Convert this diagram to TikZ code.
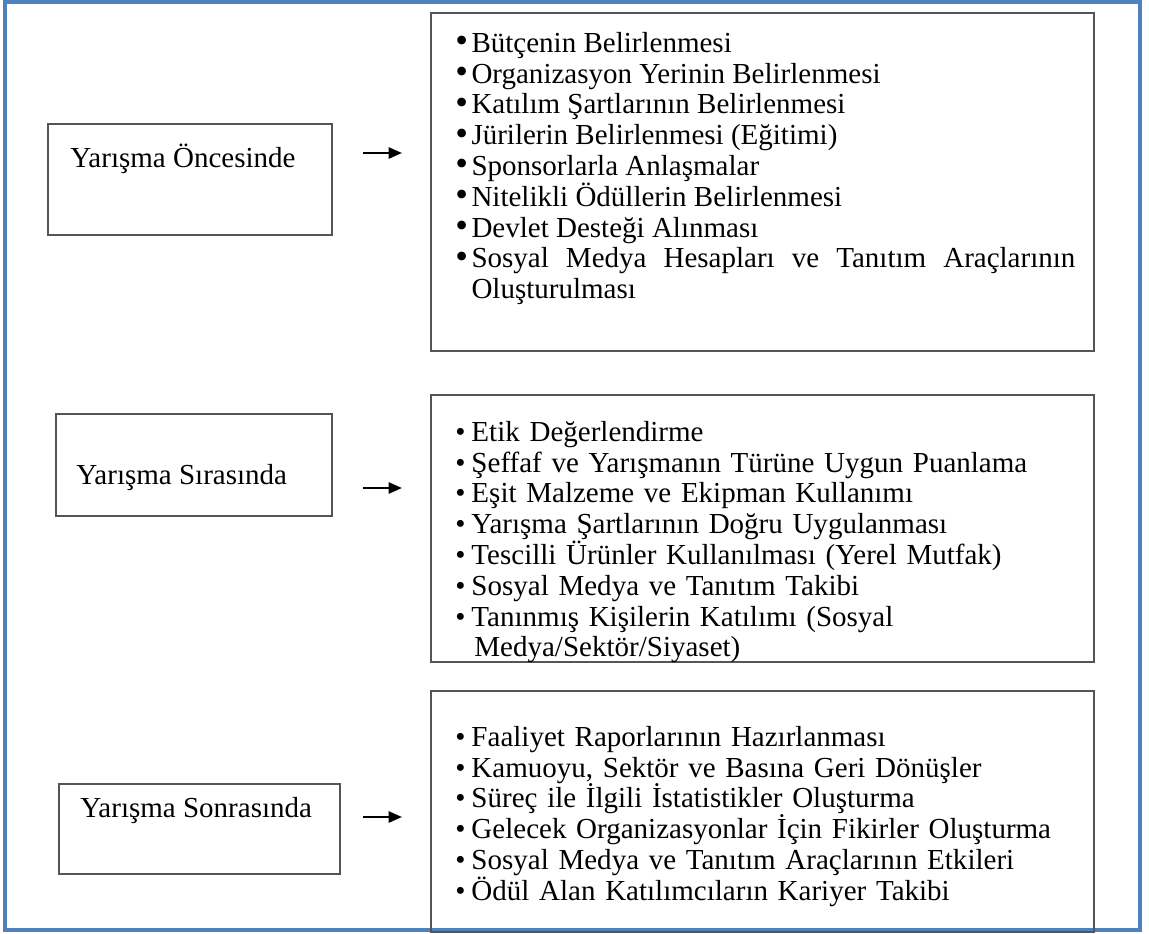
\documentclass[tikz,border=0pt]{standalone}
\usepackage{fontspec}
\setmainfont{Liberation Serif}
\usetikzlibrary{arrows.meta}
\definecolor{frameblue}{RGB}{79,129,189}
\definecolor{boxgray}{RGB}{85,85,85}
\newlength{\bulletgap}
\setlength{\bulletgap}{7.2pt}
% one bulleted item, text hangs after the bullet
\newcommand{\bigitem}[1]{\par\hangindent=\bulletgap\hangafter=1\noindent\makebox[\bulletgap][l]{\raisebox{-0.2pt}{\scalebox{1.25}{\textbullet}}}#1}
\newcommand{\smallitem}[1]{\par\hangindent=\bulletgap\hangafter=1\noindent\makebox[\bulletgap][l]{\textbullet}#1}

\begin{document}
\begin{tikzpicture}[x=0.01575cm, y=-0.01575cm,
  stage box/.style={shape=rectangle, draw=boxgray, line width=0.9pt, anchor=north west, inner sep=0},
  stage text/.style={anchor=base west, inner sep=0, font=\fontsize{13}{13.8}\selectfont},
  list text/.style={anchor=north west, inner sep=0, text width=620*0.448pt, font=\fontsize{13}{13.8}\selectfont},
  step arrow/.style={line width=1pt, -{Triangle[length=6pt, width=5pt]}},
  ]
		\useasboundingbox (0,0) rectangle (1149,934);
		\draw[frameblue, line width=1.4pt] (5,2) rectangle (1140,930);
		%stage boxes
		\node[stage box, minimum width=284*0.448pt, minimum height=111*0.448pt] (s1) at (47,123) {};
		\node[stage box, minimum width=276*0.448pt, minimum height=102*0.448pt] (s2) at (55,413) {};
		\node[stage box, minimum width=281*0.448pt, minimum height=90*0.448pt] (s3) at (58,783) {};
		\node[stage text] (t1) at (70,167) {Yarışma Öncesinde};
		\node[stage text] (t2) at (76,484) {Yarışma Sırasında};
		\node[stage text] (t3) at (80,817) {Yarışma Sonrasında};
		%list boxes
		\node[stage box, minimum width=663*0.448pt, minimum height=338*0.448pt] (l1) at (430,12) {};
		\node[stage box, minimum width=663*0.448pt, minimum height=267*0.448pt] (l2) at (430,394) {};
		\node[stage box, minimum width=663*0.448pt, minimum height=241*0.448pt] (l3) at (430,690) {};
		\node[list text, align=justify] (i1) at (455,21) {\hyphenpenalty=10000\tolerance=10000%
			\bigitem{Bütçenin Belirlenmesi}
			\bigitem{Organizasyon Yerinin Belirlenmesi}
			\bigitem{Katılım Şartlarının Belirlenmesi}
			\bigitem{Jürilerin Belirlenmesi (Eğitimi)}
			\bigitem{Sponsorlarla Anlaşmalar}
			\bigitem{Nitelikli Ödüllerin Belirlenmesi}
			\bigitem{Devlet Desteği Alınması}
			\bigitem{Sosyal Medya Hesapları ve Tanıtım Araçlarının Oluşturulması}\par};
		\node[list text] (i2) at (455,410) {\raggedright
			\smallitem{Etik Değerlendirme}
			\smallitem{Şeffaf ve Yarışmanın Türüne Uygun Puanlama}
			\smallitem{Eşit Malzeme ve Ekipman Kullanımı}
			\smallitem{Yarışma Şartlarının Doğru Uygulanması}
			\smallitem{Tescilli Ürünler Kullanılması (Yerel Mutfak)}
			\smallitem{Sosyal Medya ve Tanıtım Takibi}
			\smallitem{Tanınmış Kişilerin Katılımı (Sosyal\newline\hspace*{1.3pt}Medya/Sektör/Siyaset)}\par};
		\node[list text] (i3) at (455,715) {\raggedright
			\smallitem{Faaliyet Raporlarının Hazırlanması}
			\smallitem{Kamuoyu, Sektör ve Basına Geri Dönüşler}
			\smallitem{Süreç ile İlgili İstatistikler Oluşturma}
			\smallitem{Gelecek Organizasyonlar İçin Fikirler Oluşturma}
			\smallitem{Sosyal Medya ve Tanıtım Araçlarının Etkileri}
			\smallitem{Ödül Alan Katılımcıların Kariyer Takibi}\par};
		%arrows
		\coordinate (a1s) at (363,153);
		\coordinate (a1e) at (402,153);
		\coordinate (a2s) at (363,488);
		\coordinate (a2e) at (402,488);
		\coordinate (a3s) at (363,817);
		\coordinate (a3e) at (402,817);
		\draw[step arrow] (a1s) -- (a1e);
		\draw[step arrow] (a2s) -- (a2e);
		\draw[step arrow] (a3s) -- (a3e);
\end{tikzpicture}
\end{document}
